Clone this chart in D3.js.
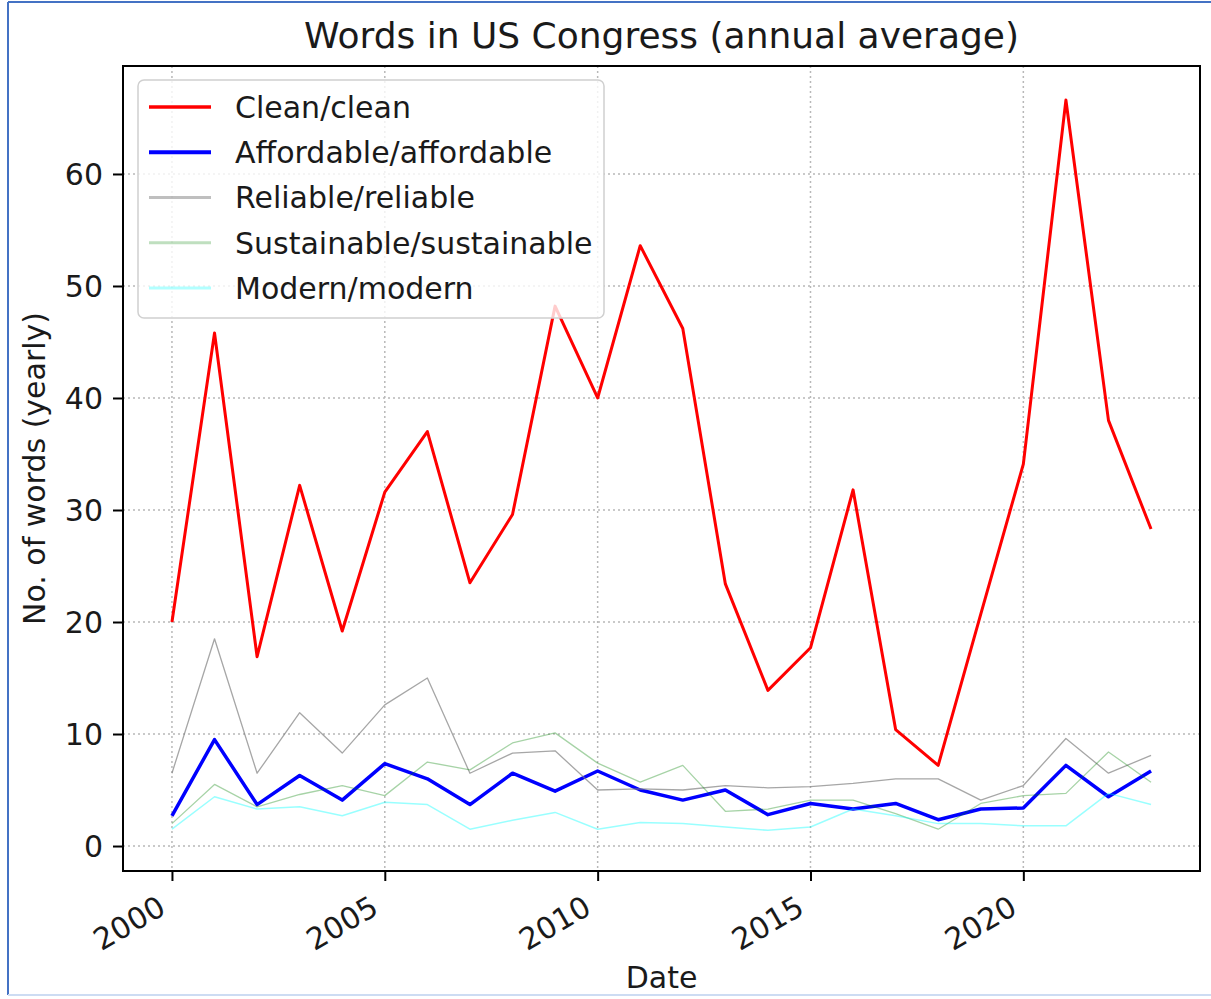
<!DOCTYPE html>
<html>
<head>
<meta charset="utf-8">
<script src="https://cdn.jsdelivr.net/npm/d3@7"></script>
<style>
  html, body { margin: 0; padding: 0; background: #fff; }
  svg { display: block; }
  text { font-family: "DejaVu Sans", sans-serif; fill: #1a1a1a; }
</style>
</head>
<body>
<svg id="chart" width="1211" height="999"></svg>
<script>
// ---- data ----
const years = [2000,2001,2002,2003,2004,2005,2006,2007,2008,2009,2010,2011,2012,2013,2014,2015,2016,2017,2018,2019,2020,2021,2022,2023];
const clean = [20.0,45.8,16.9,32.2,19.2,31.6,37.0,23.5,29.6,48.2,40.0,53.6,46.2,23.4,13.9,17.7,31.8,10.4,7.2,20.7,34.1,66.6,38.0,28.3];
const affordable = [2.7,9.5,3.7,6.3,4.1,7.35,6.0,3.7,6.5,4.9,6.7,5.0,4.1,5.0,2.8,3.8,3.3,3.8,2.35,3.3,3.4,7.2,4.4,6.7];
const reliable = [6.5,18.5,6.5,11.9,8.3,12.6,15.0,6.5,8.3,8.5,5.0,5.1,5.0,5.4,5.2,5.3,5.6,6.0,6.0,4.1,5.4,9.6,6.5,8.1];
const sustainable = [2.0,5.5,3.5,4.6,5.4,4.5,7.5,6.8,9.2,10.1,7.4,5.7,7.2,3.1,3.3,4.1,4.1,2.9,1.5,3.8,4.5,4.7,8.4,5.7];
const modern = [1.5,4.4,3.3,3.5,2.7,3.9,3.7,1.5,2.3,3.0,1.5,2.1,2.0,1.7,1.4,1.7,3.3,2.7,2.0,2.0,1.8,1.8,4.7,3.7];
const seriesNames = ["Clean/clean","Affordable/affordable","Reliable/reliable","Sustainable/sustainable","Modern/modern"];
const xTicks = [2000,2005,2010,2015,2020];
const yTicks = [0,10,20,30,40,50,60];
const titleText = "Words in US Congress (annual average)";
const xLabel = "Date";
const yLabel = "No. of words (yearly)";

// ---- styles ----
const styles = [
  {color:"#ff0000", width:3.0, opacity:1, lw:3.4, lop:1},
  {color:"#0000ff", width:3.5, opacity:1, lw:3.8, lop:1},
  {color:"#808080", width:1.3, opacity:0.7, lw:3.2, lop:0.5},
  {color:"#008000", width:1.3, opacity:0.35, lw:3.2, lop:0.25},
  {color:"#00ffff", width:1.5, opacity:0.4, lw:3.2, lop:0.3}
];
const seriesData = [clean, affordable, reliable, sustainable, modern];

const svg = d3.select("#chart");
const L = 123, R = 1200, T = 66, B = 871;

// frame border of screenshot
svg.append("line").attr("x1",8).attr("x2",1211).attr("y1",2).attr("y2",2).attr("stroke","#4472c4").attr("stroke-width",2);
svg.append("line").attr("x1",8).attr("x2",8).attr("y1",2).attr("y2",995).attr("stroke","#4472c4").attr("stroke-width",2);
svg.append("line").attr("x1",8).attr("x2",1211).attr("y1",995).attr("y2",995).attr("stroke","#cddcf3").attr("stroke-width",2);

const x = d3.scaleLinear().domain([1998.85, 2024.15]).range([L, R]);
const y = d3.scaleLinear().domain([-2.23, 69.64]).range([B, T]);

// grid
const grid = svg.append("g");
grid.selectAll(".gx").data(xTicks).enter().append("line")
  .attr("x1", d => x(d)).attr("x2", d => x(d)).attr("y1", T).attr("y2", B)
  .attr("stroke", "#b8b8b8").attr("stroke-width", 1.5).attr("stroke-dasharray", "2,3");
grid.selectAll(".gy").data(yTicks).enter().append("line")
  .attr("x1", L).attr("x2", R).attr("y1", d => y(d)).attr("y2", d => y(d))
  .attr("stroke", "#b8b8b8").attr("stroke-width", 1.5).attr("stroke-dasharray", "2,3");

// lines
const line = d3.line().x((d,i) => x(years[i])).y(d => y(d));
[0,1,2,3,4].forEach(k => {
  svg.append("path").datum(seriesData[k])
    .attr("d", line).attr("fill","none")
    .attr("stroke", styles[k].color).attr("stroke-width", styles[k].width)
    .attr("stroke-opacity", styles[k].opacity)
    .attr("stroke-linejoin","round");
});

// spines
svg.append("rect").attr("x", L).attr("y", T).attr("width", R-L).attr("height", B-T)
  .attr("fill","none").attr("stroke","#000").attr("stroke-width",2);

// y axis
const yAxis = d3.axisLeft(y).tickValues(yTicks).tickSize(10).tickPadding(10).tickFormat(d3.format("d"));
const gy = svg.append("g").attr("transform", `translate(${L},0)`).call(yAxis);
gy.select(".domain").remove();
gy.selectAll(".tick line").attr("stroke","#000").attr("stroke-width",2);
gy.selectAll(".tick text").style("font-size","30px").attr("fill","#1a1a1a").attr("dy","0.36em");

// x axis
const xAxis = d3.axisBottom(x).tickValues(xTicks).tickSize(10).tickFormat(d3.format("d"));
const gx = svg.append("g").attr("transform", `translate(0,${B})`).call(xAxis);
gx.select(".domain").remove();
gx.selectAll(".tick line").attr("stroke","#000").attr("stroke-width",2);
gx.selectAll(".tick text").style("font-size","30px").attr("fill","#1a1a1a")
  .attr("text-anchor","end").attr("x", 0).attr("y", 0).attr("dy", 0)
  .attr("transform","translate(-5,42) rotate(-30)");

// labels
svg.append("text").attr("x", (L+R)/2).attr("y", 48).attr("text-anchor","middle")
  .style("font-size","36px").text(titleText);
svg.append("text").attr("x", (L+R)/2).attr("y", 988).attr("text-anchor","middle")
  .style("font-size","30px").text(xLabel);
svg.append("text").attr("transform", `translate(45,${(T+B)/2}) rotate(-90)`).attr("text-anchor","middle")
  .style("font-size","30px").text(yLabel);

// legend
const lg = svg.append("g");
lg.append("rect").attr("x",138).attr("y",80).attr("width",466).attr("height",238).attr("rx",6)
  .attr("fill","#fff").attr("fill-opacity",0.8).attr("stroke","#d0d0d0").attr("stroke-width",1.5);
const rowY = d3.scaleLinear().domain([0,4]).range([107, 288]);
seriesNames.forEach((name,k) => {
  lg.append("line").attr("x1",149).attr("x2",211).attr("y1",rowY(k)).attr("y2",rowY(k))
    .attr("stroke",styles[k].color).attr("stroke-width",styles[k].lw).attr("stroke-opacity",styles[k].lop);
  lg.append("text").attr("x",235).attr("y",rowY(k)).attr("dy","0.36em")
    .style("font-size","30px").text(name);
});
</script>
</body>
</html>
